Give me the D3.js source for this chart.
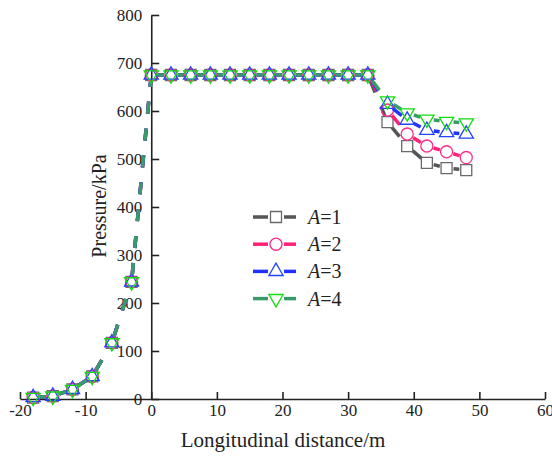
<!DOCTYPE html>
<html>
<head>
<meta charset="utf-8">
<script src="https://cdn.jsdelivr.net/npm/d3@7"></script>
<style>
  body { margin: 0; background: #fff; }
</style>
</head>
<body>
<div id="chart"></div>
<script>
var width = 552,
    height = 459;

// longitudinal positions (m)
var distance = [-18, -15, -12, -9, -6, -3, 0, 3, 6, 9, 12, 15, 18, 21, 24, 27, 30, 33, 36, 39, 42, 45, 48];

// pressure (kPa) per case
var a1 = [3, 6, 20, 47, 117, 244, 675, 675, 675, 675, 675, 675, 675, 675, 675, 675, 675, 675, 577, 527, 492, 481, 477];
var a2 = [3, 6, 20, 47, 117, 244, 675, 675, 675, 675, 675, 675, 675, 675, 675, 675, 675, 675, 602, 552, 527, 515, 503];
var a3 = [3, 6, 20, 47, 117, 244, 675, 675, 675, 675, 675, 675, 675, 675, 675, 675, 675, 675, 614, 581, 560, 555, 552];
var a4 = [3, 6, 20, 47, 117, 244, 675, 675, 675, 675, 675, 675, 675, 675, 675, 675, 675, 675, 621, 596, 583, 578, 575];

var seriesNames = ["1", "2", "3", "4"];
var xTicks = [-20, -10, 0, 10, 20, 30, 40, 50, 60];
var yTicks = [0, 100, 200, 300, 400, 500, 600, 700, 800];

var styles = [
  {line: "#555555", mark: "#6a6a6a", shape: d3.symbolSquare, size: 121, rot: 0},
  {line: "#ff2277", mark: "#ff2a8a", shape: d3.symbolCircle, size: 115, rot: 0},
  {line: "#2233ff", mark: "#2244ff", shape: d3.symbolTriangle, size: 88, rot: 0},
  {line: "#3a9a6c", mark: "#11dd11", shape: d3.symbolTriangle, size: 88, rot: 180}
];

var FONT = "Liberation Serif, Times New Roman, DejaVu Serif, serif";

var x = d3.scaleLinear().domain([-20, 60]).range([20, 545]);
var y = d3.scaleLinear().domain([0, 800]).range([399, 15]);

var svg = d3.select("#chart").append("svg")
    .attr("width", width)
    .attr("height", height)
    .attr("font-family", FONT);

// axes
var xg = svg.append("g")
    .attr("transform", "translate(0," + y(0) + ")")
    .call(d3.axisBottom(x).tickValues(xTicks).tickFormat(function(d) { return String(d); })
      .tickSizeInner(-7).tickSizeOuter(0).tickPadding(5));

var yg = svg.append("g")
    .attr("transform", "translate(" + x(0) + ",0)")
    .call(d3.axisLeft(y).tickValues(yTicks).tickFormat(function(d) { return String(d); })
      .tickSizeInner(-8).tickSizeOuter(0).tickPadding(9));

[xg, yg].forEach(function(g) {
  g.attr("font-family", FONT).attr("font-size", 17);
});

svg.selectAll(".domain, .tick line")
    .attr("stroke", "#222")
    .attr("stroke-width", 1.6);
svg.selectAll(".tick text")
    .attr("fill", "#222");

svg.append("text")
    .attr("x", 283)
    .attr("y", 447)
    .attr("text-anchor", "middle")
    .attr("font-size", 21)
    .attr("fill", "#222")
    .text("Longitudinal distance/m");

svg.append("text")
    .attr("transform", "translate(106,206) rotate(-90)")
    .attr("text-anchor", "middle")
    .attr("font-size", 20)
    .attr("fill", "#222")
    .text("Pressure/kPa");

// series: Origin style, segments with a gap around each symbol
var gap = 7;
var allSeries = [a1, a2, a3, a4];

allSeries.forEach(function(vals, si) {
  var st = styles[si];
  var pts = distance.map(function(d, i) { return [x(d), y(vals[i])]; });
  var g = svg.append("g");

  for (var i = 0; i < pts.length - 1; i++) {
    var p = pts[i], q = pts[i + 1];
    var dx = q[0] - p[0], dy = q[1] - p[1];
    var len = Math.sqrt(dx * dx + dy * dy);
    if (len <= 2 * gap) continue;
    var ux = dx / len, uy = dy / len;
    g.append("line")
      .attr("x1", p[0] + ux * gap)
      .attr("y1", p[1] + uy * gap)
      .attr("x2", q[0] - ux * gap)
      .attr("y2", q[1] - uy * gap)
      .attr("stroke", st.line)
      .attr("stroke-width", 3.5)
      .attr("stroke-dasharray", "12,15");
  }

  g.selectAll("path")
    .data(pts)
    .enter().append("path")
    .attr("d", d3.symbol().type(st.shape).size(st.size))
    .attr("transform", function(d) { return "translate(" + d[0] + "," + d[1] + ") rotate(" + st.rot + ")"; })
    .attr("fill", "none")
    .attr("stroke", st.mark)
    .attr("stroke-width", 1.3);
});

// legend
var legend = svg.append("g");
seriesNames.forEach(function(name, i) {
  var st = styles[i];
  var ly = 217 + i * 27.2;
  legend.append("line")
    .attr("x1", 253).attr("x2", 268).attr("y1", ly).attr("y2", ly)
    .attr("stroke", st.line).attr("stroke-width", 3.5);
  legend.append("line")
    .attr("x1", 284).attr("x2", 296).attr("y1", ly).attr("y2", ly)
    .attr("stroke", st.line).attr("stroke-width", 3.5);
  legend.append("path")
    .attr("d", d3.symbol().type(st.shape).size(st.size))
    .attr("transform", "translate(276," + ly + ") rotate(" + st.rot + ")")
    .attr("fill", "#fff")
    .attr("stroke", st.mark)
    .attr("stroke-width", 1.3);
  var t = legend.append("text")
    .attr("x", 308)
    .attr("y", ly + 7)
    .attr("font-size", 20)
    .attr("fill", "#222");
  t.append("tspan").attr("font-style", "italic").text("A");
  t.append("tspan").text("=" + name);
});
</script>
</body>
</html>
